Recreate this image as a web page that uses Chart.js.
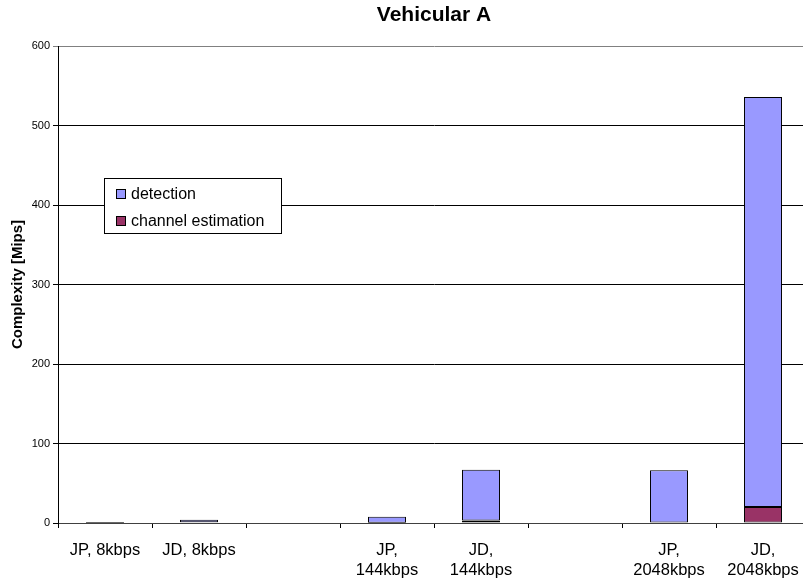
<!DOCTYPE html>
<html lang="en">
<head>
  <meta charset="UTF-8" />
  <title>Vehicular A</title>
  <script src="https://cdn.jsdelivr.net/npm/chart.js"></script>
  <style>
    body {
      margin: 0;
      background: #ffffff;
      overflow: hidden;
    }
    .chart-box {
      width: 812px;
      height: 583px;
    }
  </style>
</head>
<body>
  <div class="chart-box"><canvas id="graficaVehicular"></canvas></div>

  <script>
    // categorias (las vacias son huecos entre grupos)
    const categorias = [
      'JP, 8kbps', 'JD, 8kbps', '',
      ['JP,', '144kbps'], ['JD,', '144kbps'], '',
      ['JP,', '2048kbps'], ['JD,', '2048kbps']
    ];
    const detection = [0.8, 3, null, 7.5, 64, null, 66, 516];
    const channelEstimation = [0.4, 1, null, 0.3, 3, null, 0.5, 20];
    const yTicks = [0, 100, 200, 300, 400, 500, 600];

    const colorDetection = '#9999ff';
    const colorChannel = '#993366';
    const fuente = '"Liberation Sans", Arial, sans-serif';

    // leyenda dibujada dentro del area del grafico
    const leyendaInterna = {
      id: 'leyendaInterna',
      afterDraw(chart) {
        const ctx = chart.ctx;
        const a = chart.chartArea;
        const x = a.left + 46, y = a.top + 132, w = 177, h = 55;
        ctx.save();
        ctx.fillStyle = '#fff';
        ctx.fillRect(x, y, w, h);
        ctx.strokeStyle = '#000';
        ctx.lineWidth = 1;
        ctx.strokeRect(x + 0.5, y + 0.5, w, h);
        const items = [
          { label: 'detection', color: colorDetection },
          { label: 'channel estimation', color: colorChannel }
        ];
        ctx.font = '16px ' + fuente;
        ctx.textBaseline = 'middle';
        items.forEach((it, i) => {
          const cy = y + 16 + i * 27;
          ctx.fillStyle = it.color;
          ctx.fillRect(x + 12, cy - 5, 10, 10);
          ctx.strokeStyle = '#000';
          ctx.strokeRect(x + 12.5, cy - 4.5, 9, 9);
          ctx.fillStyle = '#000';
          ctx.fillText(it.label, x + 27, cy + 1);
        });
        ctx.restore();
      }
    };

    new Chart(document.getElementById('graficaVehicular'), {
      type: 'bar',
      data: {
        labels: categorias,
        datasets: [
          { label: 'channel estimation', data: channelEstimation, backgroundColor: colorChannel,
            borderColor: '#000', borderWidth: 1, borderSkipped: false },
          { label: 'detection', data: detection, backgroundColor: colorDetection,
            borderColor: '#000', borderWidth: 1, borderSkipped: false }
        ]
      },
      options: {
        responsive: true,
        maintainAspectRatio: false,
        animation: false,
        devicePixelRatio: 1,
        layout: { padding: { left: 0, right: 2, top: 0, bottom: 0 } },
        categoryPercentage: 1,
        barPercentage: 0.404,
        plugins: {
          legend: { display: false },
          tooltip: { enabled: false },
          title: {
            display: true,
            fullSize: false,
            text: 'Vehicular A',
            color: '#000',
            font: { family: fuente, size: 21, weight: 'bold', lineHeight: 1.2 },
            padding: { top: 3, bottom: 17.8 }
          }
        },
        scales: {
          x: {
            stacked: true,
            grid: { offset: true, drawOnChartArea: false, drawTicks: true, tickLength: 5, color: '#000' },
            border: { color: '#404040', width: 1 },
            ticks: {
              color: '#000',
              maxRotation: 0,
              autoSkip: false,
              padding: 12,
              font: { family: fuente, size: 16.5, lineHeight: 1.22 }
            },
            afterFit(scale) { scale.height = 60; }
          },
          y: {
            stacked: true,
            min: 0,
            max: 600,
            afterBuildTicks(scale) { scale.ticks = yTicks.map(v => ({ value: v })); },
            grid: {
              color: c => (c.tick && c.tick.value === 600) ? '#808080' : '#000',
              drawTicks: true,
              tickLength: 5
            },
            border: { color: '#000', width: 1 },
            ticks: {
              color: '#000',
              padding: 3,
              font: { family: fuente, size: 11 }
            },
            title: {
              display: true,
              text: 'Complexity [Mips]',
              color: '#000',
              padding: { top: 9, bottom: 0 },
              font: { family: fuente, size: 15, weight: 'bold', lineHeight: 1.2 }
            },
            afterFit(scale) { scale.width = 58; }
          }
        }
      },
      plugins: [leyendaInterna]
    });
  </script>
</body>
</html>
